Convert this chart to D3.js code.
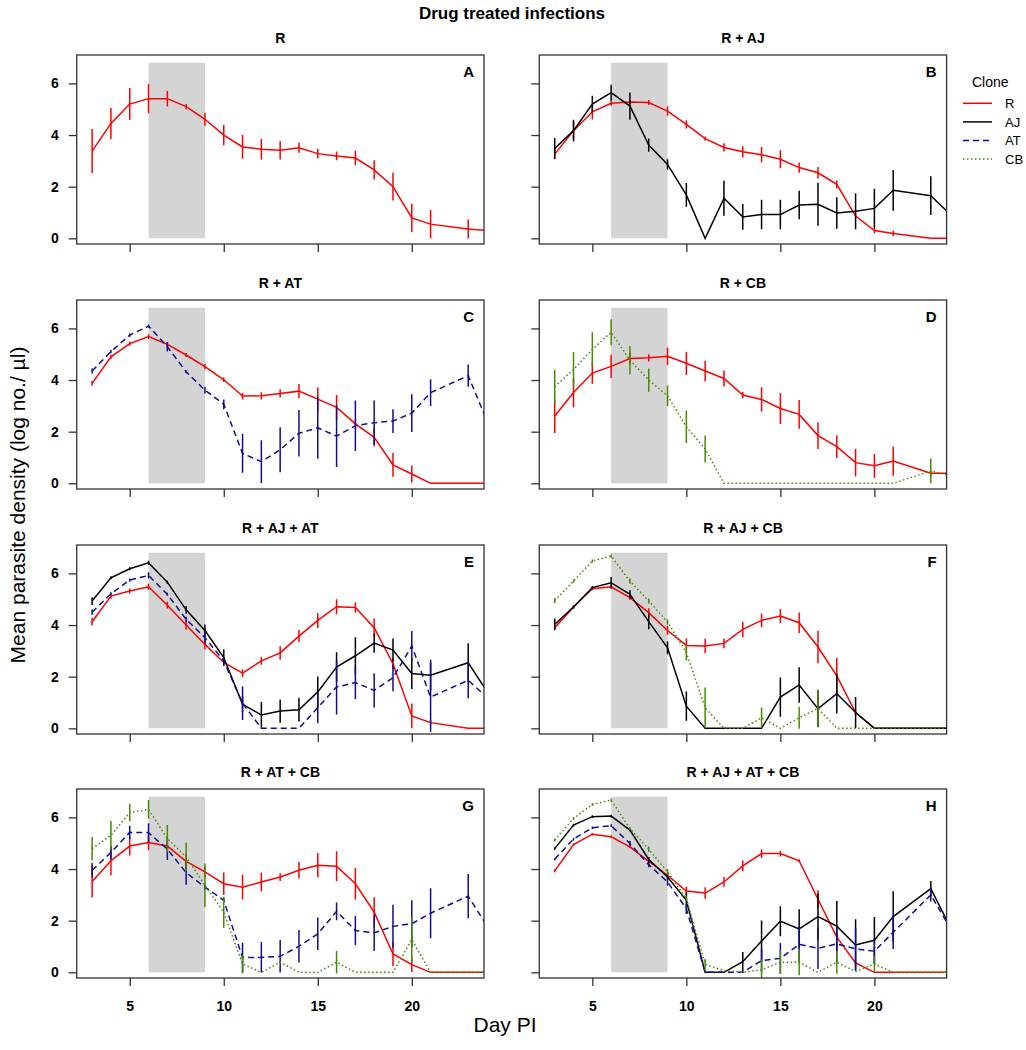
<!DOCTYPE html>
<html><head><meta charset="utf-8">
<script src="https://cdn.jsdelivr.net/npm/d3@7"></script>
<style>
body{margin:0;background:#fff}
svg{display:block}
text{font-family:"Liberation Sans",Arial,Helvetica,sans-serif}
</style>
</head><body>
<svg id="chart" width="1026" height="1050"></svg>
<script>
// ---------------- DATA ----------------
const days = [3,4,5,6,7,8,9,10,11,12,13,14,15,16,17,18,19,20,21,23,24];
const yTicks = [0,2,4,6];
const xTicks = [5,10,15,20];
const drugStart = 6, drugEnd = 9, drugTop = 6.8;

const panelTitles  = ["R","R + AJ","R + AT","R + CB","R + AJ + AT","R + AJ + CB","R + AT + CB","R + AJ + AT + CB"];
const panelLetters = ["A","B","C","D","E","F","G","H"];
const clones = ["R","AJ","AT","CB"];

// Panel A
const A_R_mean = [3.38,4.45,5.2,5.41,5.41,5.1,4.61,4.0,3.54,3.45,3.41,3.51,3.28,3.19,3.11,2.65,2.0,0.79,0.55,0.36,0.30];
const A_R_se   = [0.85,0.6,0.62,0.57,0.3,0.1,0.25,0.4,0.46,0.4,0.36,0.2,0.19,0.17,0.28,0.37,0.54,0.55,0.55,0.37,0];
// Panel B
const B_R_mean  = [3.26,4.17,4.9,5.23,5.28,5.26,4.93,4.41,3.86,3.52,3.35,3.24,3.06,2.74,2.54,2.09,0.86,0.3,0.19,0,0];
const B_R_se    = [0.2,0.35,0.3,0.1,0.08,0.1,0.18,0.16,0.08,0.16,0.22,0.3,0.35,0.2,0.22,0.15,0.05,0.1,0.1,0,0];
const B_AJ_mean = [3.48,4.17,5.2,5.64,5.12,3.61,2.86,1.68,0,1.55,0.83,0.92,0.92,1.29,1.32,0.98,1.05,1.16,1.86,1.65,0.95];
const B_AJ_se   = [0.41,0.42,0.32,0.31,0.53,0.26,0.2,0.46,0,0.68,0.5,0.57,0.57,0.55,0.83,0.61,0.7,0.76,0.79,0.75,0];
// Panel C
const C_R_mean  = [3.87,4.9,5.41,5.68,5.38,4.97,4.52,4.01,3.38,3.39,3.48,3.57,3.26,2.94,2.3,1.78,0.71,0.36,0,0,0];
const C_R_se    = [0.09,0.08,0.08,0.09,0.1,0.08,0.1,0.09,0.13,0.14,0.16,0.28,0.45,0.48,0.2,0.35,0.46,0.33,0,0,0];
const C_AT_mean = [4.35,5.1,5.74,6.09,5.29,4.32,3.61,3.06,1.16,0.84,1.3,1.94,2.15,1.83,2.23,2.35,2.41,2.72,3.51,4.17,2.42];
const C_AT_se   = [0.1,0.06,0.06,0.06,0.18,0.06,0.13,0.19,0.75,0.83,0.87,0.9,1.2,1.2,0.98,0.86,0.46,0.73,0.52,0.43,0];
// Panel D
const D_R_mean  = [2.61,3.52,4.27,4.53,4.83,4.86,4.92,4.65,4.35,4.06,3.42,3.25,2.9,2.67,1.85,1.42,0.8,0.68,0.86,0.39,0.39];
const D_R_se    = [0.66,0.57,0.41,0.45,0.23,0.14,0.34,0.45,0.4,0.31,0.12,0.47,0.6,0.56,0.52,0.44,0.54,0.46,0.57,0.1,0];
const D_CB_mean = [3.74,4.41,5.19,5.85,4.77,4.0,3.39,2.19,1.33,0,0,0,0,0,0,0,0,0,0,0.48,0.3];
const D_CB_se   = [0.65,0.68,0.66,0.5,0.55,0.45,0.4,0.63,0.52,0,0,0,0,0,0,0,0,0,0,0.48,0];
// Panel E
const E_R_mean  = [4.13,5.12,5.32,5.48,4.77,4.0,3.25,2.55,2.14,2.61,2.92,3.57,4.18,4.71,4.68,3.9,2.5,0.48,0.22,0,0];
const E_R_se    = [0.15,0.1,0.1,0.12,0.13,0.18,0.2,0.12,0.15,0.15,0.26,0.24,0.29,0.29,0.2,0.35,0.2,0.48,0.1,0,0];
const E_AJ_mean = [4.93,5.83,6.18,6.41,5.66,4.59,3.79,2.74,0.93,0.52,0.67,0.72,1.41,2.37,2.81,3.3,3.03,2.12,2.06,2.54,1.43];
const E_AJ_se   = [0.15,0.06,0.06,0.08,0.06,0.15,0.23,0.32,0.3,0.5,0.45,0.46,0.6,0.58,0.72,0.37,0.45,0.6,0.6,0.75,0];
const E_AT_mean = [4.5,5.21,5.74,5.92,5.19,4.22,3.51,2.61,0.97,0,0,0,0.8,1.6,1.77,1.47,1.96,3.19,1.21,1.86,1.2];
const E_AT_se   = [0.1,0.06,0.06,0.12,0.06,0.1,0.22,0.08,0.65,0,0,0,0.6,1.06,0.63,0.66,0.52,0.58,1.35,0.7,0];
// Panel F
const F_R_mean  = [3.9,4.7,5.41,5.48,5.06,4.48,3.79,3.21,3.19,3.29,3.83,4.18,4.35,4.09,3.15,2.03,0.61,0,0,0,0];
const F_R_se    = [0.1,0.06,0.06,0.06,0.08,0.17,0.17,0.27,0.28,0.19,0.3,0.27,0.27,0.4,0.63,0.7,0.1,0,0,0,0];
const F_AJ_mean = [4.03,4.7,5.45,5.64,5.19,4.13,3.12,0.86,0,0,0,0,1.21,1.68,0.76,1.34,0.61,0,0,0,0];
const F_AJ_se   = [0.22,0.06,0.06,0.22,0.16,0.29,0.25,0.57,0,0,0,0,0.76,0.69,0.72,0.77,0.6,0,0,0,0];
const F_CB_mean = [4.95,5.7,6.48,6.67,5.7,4.93,4.12,2.93,0.8,0,0,0.41,0,0.41,0.77,0,0,0,0,0,0];
const F_CB_se   = [0.1,0.06,0.06,0.06,0.1,0.1,0.1,0.3,0.78,0,0,0.4,0,0.43,0.72,0,0,0,0,0,0];
// Panel G
const G_R_mean  = [3.52,4.32,4.89,5.03,4.89,4.3,3.89,3.43,3.3,3.5,3.69,3.95,4.15,4.11,3.43,2.33,0.71,0.3,0,0,0];
const G_R_se    = [0.62,0.56,0.37,0.3,0.18,0.28,0.21,0.44,0.48,0.36,0.15,0.32,0.47,0.58,0.61,0.58,0.47,0.29,0,0,0];
const G_AT_mean = [3.95,4.64,5.42,5.41,4.77,3.86,3.3,2.79,0.57,0.58,0.62,1.01,1.49,2.36,1.62,1.53,1.78,1.88,2.29,2.95,1.8];
const G_AT_se   = [0.28,0.26,0.26,0.36,0.42,0.47,0.1,0.1,0.58,0.59,0.63,0.63,0.63,0.34,0.56,0.7,0.84,0.91,0.97,0.86,0];
const G_CB_mean = [4.79,5.31,6.19,6.31,5.18,4.47,3.37,2.33,0.32,0,0.39,0,0,0.39,0,0,0,1.27,0,0,0];
const G_CB_se   = [0.45,0.55,0.34,0.36,0.53,0.55,0.84,0.6,0.36,0,0.05,0,0,0.44,0,0,0,0.87,0,0,0];
// Panel H
const H_R_mean  = [3.93,4.95,5.35,5.25,4.86,4.3,3.76,3.15,3.07,3.5,4.12,4.6,4.6,4.32,2.83,1.36,0.36,0,0,0,0];
const H_R_se    = [0.05,0.05,0.05,0.05,0.05,0.05,0.05,0.16,0.22,0.19,0.21,0.17,0.11,0.06,0.35,0.1,0.05,0,0,0,0];
const H_AJ_mean = [4.79,5.7,6.03,6.05,5.51,4.37,3.69,2.79,0,0,0.41,1.21,1.98,1.68,2.16,1.79,1.06,1.24,2.16,3.24,1.8];
const H_AJ_se   = [0.05,0.05,0.05,0.05,0.05,0.1,0.1,0.32,0,0,0.38,0.8,0.58,0.76,0.9,0.97,1.0,0.9,0.98,0.3,0];
const H_AT_mean = [4.38,5.16,5.6,5.68,4.99,4.17,3.5,2.46,0,0,0,0.45,0.54,1.08,0.93,1.1,0.91,0.82,1.55,3.0,1.75];
const H_AT_se   = [0.05,0.05,0.05,0.05,0.1,0.1,0.15,0.2,0,0,0,0.45,0.6,0.7,0.8,0.7,0.8,0.5,0.65,0.26,0];
const H_CB_mean = [5.12,5.96,6.5,6.67,5.57,4.77,3.89,2.85,0.32,0.06,0,0.1,0.39,0.39,0,0.39,0.03,0.32,0,0,0];
const H_CB_se   = [0.05,0.05,0.05,0.05,0.05,0.1,0.1,0.1,0.2,0,0,0.4,0.45,0.5,0,0.45,0,0.3,0,0,0];

// ---------------- STYLE ----------------
const cloneColor = {R:"#ff0000", AJ:"#000000", AT:"#0d0d96", CB:"#458b00"};
const cloneDash  = {R:null, AJ:null, AT:"6,4", CB:"1.5,2.5"};

const panelSeries = [
  [["R",A_R_mean,A_R_se]],
  [["R",B_R_mean,B_R_se],["AJ",B_AJ_mean,B_AJ_se]],
  [["R",C_R_mean,C_R_se],["AT",C_AT_mean,C_AT_se]],
  [["R",D_R_mean,D_R_se],["CB",D_CB_mean,D_CB_se]],
  [["R",E_R_mean,E_R_se],["AJ",E_AJ_mean,E_AJ_se],["AT",E_AT_mean,E_AT_se]],
  [["R",F_R_mean,F_R_se],["AJ",F_AJ_mean,F_AJ_se],["CB",F_CB_mean,F_CB_se]],
  [["R",G_R_mean,G_R_se],["AT",G_AT_mean,G_AT_se],["CB",G_CB_mean,G_CB_se]],
  [["R",H_R_mean,H_R_se],["AJ",H_AJ_mean,H_AJ_se],["AT",H_AT_mean,H_AT_se],["CB",H_CB_mean,H_CB_se]]
];

// ---------------- LAYOUT ----------------
const colX = [76.7, 539.3];
const rowY = [55, 300, 545, 789];
const W = 407.3, H = 189;

const svg = d3.select("#chart");
const x = d3.scaleLinear().domain([2.18, 23.84]).range([0, W]);
const y = d3.scaleLinear().domain([-0.22, 7.1]).range([H, 0]);

svg.append("text").attr("x", 512).attr("y", 19).attr("text-anchor","middle")
  .attr("font-size", 17).attr("font-weight","bold").text("Drug treated infections");

svg.append("text").attr("transform","translate(25,505) rotate(-90)").attr("text-anchor","middle")
  .attr("font-size", 21).text("Mean parasite density (log no./ µl)");

svg.append("text").attr("x", 505).attr("y", 1032).attr("text-anchor","middle")
  .attr("font-size", 21).text("Day PI");

const line = d3.line().x(d => x(d.day)).y(d => y(d.mean));

panelSeries.forEach((series, i) => {
  const col = i % 2, row = Math.floor(i / 2);
  const g = svg.append("g").attr("transform", `translate(${colX[col]},${rowY[row]})`);
  const clipId = "clip" + i;
  g.append("clipPath").attr("id", clipId).append("rect").attr("width", W).attr("height", H);

  // drug treatment shading
  g.append("rect")
    .attr("x", x(drugStart)).attr("width", x(drugEnd) - x(drugStart))
    .attr("y", y(drugTop)).attr("height", y(0) - y(drugTop))
    .attr("fill", "#d4d4d4");

  const plot = g.append("g").attr("clip-path", `url(#${clipId})`);
  series.forEach(([clone, means, ses]) => {
    const pts = days.map((d, k) => ({day: d, mean: means[k], se: ses[k]}));
    plot.append("path").datum(pts).attr("d", line)
      .attr("fill","none").attr("stroke", cloneColor[clone]).attr("stroke-width", 1.5)
      .attr("stroke-dasharray", cloneDash[clone]);
    plot.selectAll(null).data(pts.filter(p => p.se > 0)).enter().append("line")
      .attr("x1", p => x(p.day)).attr("x2", p => x(p.day))
      .attr("y1", p => y(p.mean - p.se)).attr("y2", p => y(p.mean + p.se))
      .attr("stroke", cloneColor[clone]).attr("stroke-width", 1.5);
  });

  // box
  g.append("rect").attr("width", W).attr("height", H)
    .attr("fill","none").attr("stroke","#333").attr("stroke-width",1.3);

  // axes
  const yAxis = d3.axisLeft(y).tickValues(yTicks).tickSize(8).tickPadding(10)
    .tickFormat(col === 0 ? d3.format("d") : () => "");
  const ya = g.append("g").call(yAxis);
  ya.select(".domain").remove();
  ya.selectAll(".tick line").attr("stroke","#333").attr("stroke-width",1.3);
  ya.selectAll("text").attr("font-size",14).attr("font-weight","bold")
    .attr("font-family","'Liberation Sans',Arial,sans-serif").attr("fill","#000");

  const xAxis = d3.axisBottom(x).tickValues(xTicks).tickSize(8).tickPadding(15)
    .tickFormat(row === 3 ? d3.format("d") : () => "");
  const xa = g.append("g").attr("transform", `translate(0,${H})`).call(xAxis);
  xa.select(".domain").remove();
  xa.selectAll(".tick line").attr("stroke","#333").attr("stroke-width",1.3);
  xa.selectAll("text").attr("font-size",14).attr("font-weight","bold")
    .attr("font-family","'Liberation Sans',Arial,sans-serif").attr("fill","#000");

  // titles
  g.append("text").attr("x", W/2).attr("y", -12).attr("text-anchor","middle")
    .attr("font-size",14).attr("font-weight","bold").text(panelTitles[i]);
  g.append("text").attr("x", W - 10).attr("y", 22).attr("text-anchor","end")
    .attr("font-size",15).attr("font-weight","bold").text(panelLetters[i]);
});

// legend
const lg = svg.append("g");
lg.append("text").attr("x", 972).attr("y", 87).attr("font-size",14).text("Clone");
clones.forEach((c, k) => {
  const yy = 103.3 + k * 18.6;
  lg.append("line").attr("x1", 963).attr("x2", 992).attr("y1", yy).attr("y2", yy)
    .attr("stroke", cloneColor[c]).attr("stroke-width", 1.5).attr("stroke-dasharray", cloneDash[c]);
  lg.append("text").attr("x", 1005).attr("y", yy).attr("dy","0.36em").attr("font-size",13).text(c);
});
</script>
</body></html>
